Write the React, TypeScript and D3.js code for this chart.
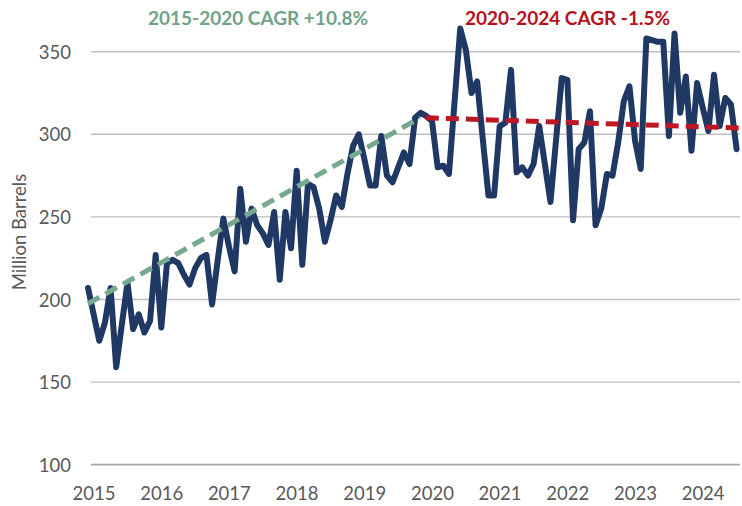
import React from "react";
import * as d3 from "d3";

// Monthly values, Jan 2015 .. Aug 2024 (million barrels)
const startYear = 2015;
const values: number[] = [
  207, 191, 175, 186, 207, 159, 185, 210, 182, 191, 180, 187,
  227, 183, 222, 224, 222, 215, 209, 219, 225, 227, 197, 224,
  249, 232, 217, 267, 235, 255, 245, 240, 233, 253, 212, 253,
  231, 278, 221, 270, 268, 255, 235, 248, 263, 256, 276, 293,
  300, 285, 269, 269, 299, 275, 271, 280, 289, 282, 310, 313,
  311, 308, 280, 281, 276, 320, 364, 351, 325, 332, 297, 263,
  263, 305, 307, 339, 277, 280, 275, 282, 305, 282, 259, 297,
  334, 333, 248, 291, 295, 314, 245, 255, 276, 275, 295, 320,
  329, 296, 279, 358, 357, 356, 356, 299, 361, 313, 335, 290,
  331, 316, 302, 336, 305, 322, 318, 291,
];

// Trend lines: [month index, value]
const trend2015: [number, number][] = [[0, 197.5], [58.9, 310]];
const trend2020: [number, number][] = [[59.9, 310], [115.6, 303.8]];

const yTicks = [100, 150, 200, 250, 300, 350];
const xYears = [2015, 2016, 2017, 2018, 2019, 2020, 2021, 2022, 2023, 2024];

const label2015 = "2015-2020 CAGR +10.8%";
const label2020 = "2020-2024 CAGR -1.5%";
const yTitle = "Million Barrels";

const W = 742;
const H = 506;
const FONT = "Lato, 'Liberation Sans', sans-serif";

export default function App() {
  const x = d3.scaleLinear().domain([0, 115]).range([88, 88 + 115 * 5.64]);
  const y = d3.scaleLinear().domain([100, 350]).range([464.7, 51.7]);

  const line = d3
    .line<number>()
    .x((_, i) => x(i))
    .y((d) => y(d));

  const tline = d3
    .line<[number, number]>()
    .x((d) => x(d[0]))
    .y((d) => y(d[1]));

  const gridX0 = 91;
  const gridX1 = 740;

  return (
    <svg
      width={W}
      height={H}
      style={{ position: "absolute", left: 0, top: 0, background: "#fff" }}
      fontFamily={FONT}
    >
      {yTicks.map((t) => (
        <g key={t}>
          <line
            x1={gridX0}
            x2={gridX1}
            y1={y(t)}
            y2={y(t)}
            stroke={t === 100 ? "#A6A6A6" : "#BFBFBF"}
            strokeWidth={t === 100 ? 1.8 : 1.4}
          />
          <text
            x={71}
            y={y(t)}
            textAnchor="end"
            dominantBaseline="central"
            fontSize={18.5}
            fill="#595959"
          >
            {t}
          </text>
        </g>
      ))}
      {xYears.map((yr) => (
        <text
          key={yr}
          x={x((yr - startYear) * 12) + 6}
          y={493}
          textAnchor="middle"
          dominantBaseline="central"
          fontSize={18.5}
          fill="#595959"
        >
          {yr}
        </text>
      ))}
      <text
        transform={`translate(19,232) rotate(-90)`}
        textAnchor="middle"
        dominantBaseline="central"
        fontSize={18.5}
        fill="#595959"
      >
        {yTitle}
      </text>

      <path
        d={line(values) || ""}
        fill="none"
        stroke="#1F3864"
        strokeWidth={6}
        strokeLinejoin="round"
        strokeLinecap="round"
      />
      <path
        d={tline(trend2015) || ""}
        fill="none"
        stroke="#76A98F"
        strokeWidth={5}
        strokeDasharray="13 7"
      />
      <path
        d={tline(trend2020) || ""}
        fill="none"
        stroke="#BE1622"
        strokeWidth={5}
        strokeDasharray="13 7"
      />

      <text x={148} y={25} fontSize={19} fontWeight="bold" fill="#6FA48A">
        {label2015}
      </text>
      <text x={465} y={25} fontSize={19} fontWeight="bold" fill="#B5121E">
        {label2020}
      </text>
    </svg>
  );
}
